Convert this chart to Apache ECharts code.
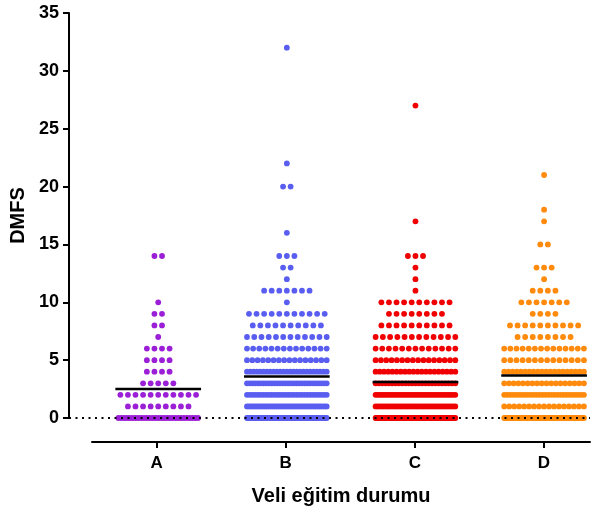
<!DOCTYPE html>
<html>
<head>
<meta charset="utf-8">
<script src="https://cdn.jsdelivr.net/npm/echarts@6/dist/echarts.min.js"></script>
<style>
  html, body { margin: 0; padding: 0; background: #fff; }
  #chart { width: 606px; height: 512px; }
</style>
</head>
<body>
<div id="chart"></div>
<script>
// ---- data ----
const categories = ['A', 'B', 'C', 'D'];
const yTicks = [0, 5, 10, 15, 20, 25, 30, 35];

const aValues = [0, 1, 2, 3, 4, 5, 6, 7, 8, 9, 10, 14];
const aCounts = [29, 9, 11, 5, 4, 4, 4, 1, 2, 2, 1, 2];

const bValues = [0, 1, 2, 3, 4, 5, 6, 7, 8, 9, 10, 11, 12, 13, 14, 16, 20, 22, 32];
const bCounts = [70, 40, 30, 30, 25, 16, 14, 12, 10, 11, 1, 7, 1, 2, 3, 1, 2, 1, 1];

const cValues = [0, 1, 2, 3, 4, 5, 6, 7, 8, 9, 10, 11, 12, 13, 14, 17, 27];
const cCounts = [90, 35, 35, 25, 20, 16, 13, 12, 10, 8, 10, 1, 1, 1, 3, 1, 1];

const dValues = [0, 1, 2, 3, 4, 5, 6, 7, 8, 9, 10, 11, 12, 13, 15, 17, 18, 21];
const dCounts = [60, 17, 28, 18, 20, 14, 14, 8, 10, 4, 7, 4, 1, 3, 2, 1, 1, 1];

const groupValues = [aValues, bValues, cValues, dValues];
const groupCounts = [aCounts, bCounts, cCounts, dCounts];
const colors = ['#9b1fd6', '#5a5ef0', '#f00000', '#ff8a0c'];

// ---- layout constants (styling, not data) ----
const CAT_PX = 129.1;      // pixels per category unit
const DOT_STEP_PX = 7.6;   // natural horizontal spacing of dots
const MAX_SPAN_PX = 80;    // max spread of dot centres in a row
const MEAN_HALF_PX = 43;   // half length of the mean bar

function swarm(ci) {
  const vals = groupValues[ci], cnts = groupCounts[ci];
  const pts = [];
  vals.forEach((v, k) => {
    const n = cnts[k];
    let step = DOT_STEP_PX;
    if ((n - 1) * step > MAX_SPAN_PX) step = MAX_SPAN_PX / (n - 1);
    for (let i = 0; i < n; i++) {
      const off = (i - (n - 1) / 2) * step / CAT_PX;
      pts.push([ci + 1 + off, v]);
    }
  });
  return pts;
}
function mean(ci) {
  const vals = groupValues[ci], cnts = groupCounts[ci];
  let s = 0, n = 0;
  vals.forEach((v, k) => { s += v * cnts[k]; n += cnts[k]; });
  return s / n;
}

const xMin0 = 0.5 - 25 / CAT_PX;
const xMax = 4.357;
const font = 'Liberation Sans, Arial, Helvetica, sans-serif';

const series = [{
  type: 'line', xAxisIndex: 0, yAxisIndex: 0, data: [], z: 1, silent: true,
  markLine: {
    silent: true, symbol: 'none', label: { show: false },
    lineStyle: { color: '#000', type: [2, 4.5], width: 2 },
    data: [{ yAxis: 0 }]
  }
}];
categories.forEach((c, ci) => {
  series.push({
    type: 'scatter', name: c, xAxisIndex: 0, yAxisIndex: 0, z: 2, clip: false,
    symbol: 'circle', symbolSize: 5.8, silent: true,
    itemStyle: { color: colors[ci], opacity: 1 },
    data: swarm(ci)
  });
});
categories.forEach((c, ci) => {
  const m = mean(ci), h = MEAN_HALF_PX / CAT_PX;
  series.push({
    type: 'line', xAxisIndex: 0, yAxisIndex: 0, z: 3, silent: true,
    symbol: 'none', lineStyle: { color: '#000', width: 2.5 },
    data: [[ci + 1 - h, m], [ci + 1 + h, m]]
  });
});

const chart = echarts.init(document.getElementById('chart'), null, { renderer: 'canvas' });
chart.setOption({
  animation: false,
  backgroundColor: '#fff',
  grid: [
    { left: 67, right: 16, top: 13, bottom: 94 },
    { left: 92, right: 16, top: 420, bottom: 70 }
  ],
  xAxis: [
    { type: 'value', gridIndex: 0, min: xMin0, max: xMax, show: false },
    {
      type: 'value', gridIndex: 1, min: 0.5, max: xMax,
      axisLine: { show: true, lineStyle: { color: '#000', width: 2 } },
      axisTick: { show: true, customValues: [1, 2, 3, 4], length: 6, lineStyle: { color: '#000', width: 2 } },
      axisLabel: {
        customValues: [1, 2, 3, 4], formatter: v => categories[Math.round(v) - 1] || '',
        color: '#000', fontFamily: font, fontWeight: 'bold', fontSize: 17, margin: 13
      },
      splitLine: { show: false },
      name: 'Veli eğitim durumu', nameLocation: 'middle', nameGap: 44,
      nameTextStyle: { color: '#000', fontFamily: font, fontWeight: 'bold', fontSize: 20 }
    }
  ],
  yAxis: [
    {
      type: 'value', gridIndex: 0, min: 0, max: 35, interval: 5,
      axisLine: { show: true, lineStyle: { color: '#000', width: 2 } },
      axisTick: { show: true, length: 6, lineStyle: { color: '#000', width: 2 } },
      axisLabel: {
        color: '#000', fontFamily: font, fontWeight: 'bold', fontSize: 18, margin: 10,
        formatter: v => (yTicks.indexOf(v) >= 0 ? String(v) : '')
      },
      splitLine: { show: false },
      name: 'DMFS', nameLocation: 'middle', nameGap: 41,
      nameTextStyle: { color: '#000', fontFamily: font, fontWeight: 'bold', fontSize: 20 }
    },
    { type: 'value', gridIndex: 1, show: false }
  ],
  series: series
});
</script>
</body>
</html>
